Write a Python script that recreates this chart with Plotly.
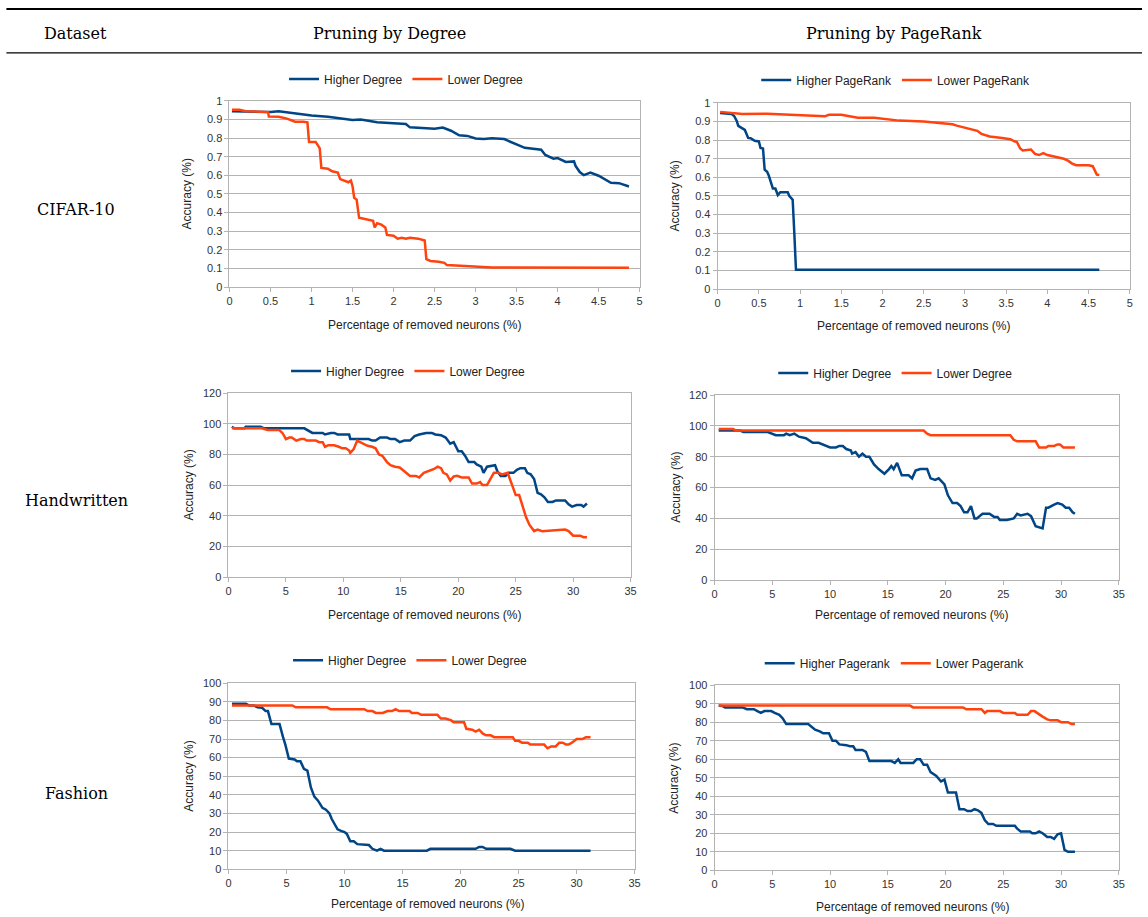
import plotly.graph_objects as go

W, H = 1148, 917
BLUE = "#004586"
ORANGE = "#ff420e"
SANS = "Liberation Sans, Arial, sans-serif"
SERIF = "DejaVu Serif, serif"

# ---------------- DATA ----------------
header_labels = ["Dataset", "Pruning by Degree", "Pruning by PageRank"]
dataset_labels = ["CIFAR-10", "Handwritten", "Fashion"]
x_title = "Percentage of removed neurons (%)"
y_title = "Accuracy (%)"

# CIFAR-10, pruning by degree
cd_hi_x = [0.03, 0.3, 0.5, 0.6, 0.8, 1.0, 1.2, 1.4, 1.5, 1.6, 1.8, 2.0, 2.15, 2.2, 2.4, 2.5, 2.6, 2.7, 2.8, 2.9,
           3.0, 3.1, 3.2, 3.35, 3.4, 3.5, 3.6, 3.8, 3.85, 3.95, 4.0, 4.1, 4.2, 4.22, 4.27, 4.32, 4.4, 4.5, 4.6,
           4.65, 4.75, 4.87]
cd_hi_y = [0.945, 0.942, 0.94, 0.945, 0.932, 0.922, 0.915, 0.905, 0.898, 0.9, 0.885, 0.88, 0.876, 0.858, 0.855,
           0.85, 0.857, 0.84, 0.815, 0.812, 0.798, 0.795, 0.8, 0.795, 0.785, 0.767, 0.748, 0.738, 0.71, 0.69,
           0.693, 0.672, 0.675, 0.65, 0.618, 0.601, 0.615, 0.598, 0.572, 0.56, 0.558, 0.54]
cd_lo_x = [0.03, 0.12, 0.2, 0.3, 0.47, 0.48, 0.6, 0.7, 0.8, 0.9, 0.95, 0.97, 1.05, 1.08, 1.1, 1.12, 1.2, 1.25,
           1.32, 1.35, 1.45, 1.48, 1.5, 1.52, 1.55, 1.58, 1.65, 1.7, 1.75, 1.77, 1.8, 1.85, 1.9, 1.92, 2.0, 2.05,
           2.1, 2.15, 2.2, 2.3, 2.38, 2.4, 2.45, 2.55, 2.62, 2.65, 2.8, 3.0, 3.2, 4.87]
cd_lo_y = [0.952, 0.952, 0.945, 0.942, 0.94, 0.916, 0.915, 0.905, 0.888, 0.888, 0.885, 0.78, 0.78, 0.76, 0.745,
           0.64, 0.636, 0.622, 0.615, 0.58, 0.563, 0.572, 0.542, 0.48, 0.47, 0.372, 0.366, 0.36, 0.356, 0.32,
           0.343, 0.335, 0.32, 0.28, 0.276, 0.26, 0.264, 0.26, 0.265, 0.26, 0.25, 0.15, 0.14, 0.136, 0.13,
           0.118, 0.115, 0.11, 0.105, 0.103]

# CIFAR-10, pruning by PageRank
cp_hi_x = [0.03, 0.17, 0.2, 0.23, 0.25, 0.3, 0.33, 0.37, 0.4, 0.45, 0.5, 0.52, 0.55, 0.57, 0.6, 0.62, 0.65, 0.67,
           0.7, 0.72, 0.73, 0.76, 0.85, 0.87, 0.89, 0.91, 0.93, 0.95, 4.63]
cp_hi_y = [0.946, 0.94, 0.93, 0.905, 0.877, 0.865, 0.855, 0.812, 0.81, 0.797, 0.793, 0.758, 0.755, 0.642, 0.63,
           0.61, 0.562, 0.54, 0.54, 0.52, 0.505, 0.52, 0.52, 0.5, 0.487, 0.48, 0.3, 0.103, 0.103]
cp_lo_x = [0.03, 0.2, 0.3, 0.6, 1.0, 1.3, 1.35, 1.5, 1.6, 1.7, 1.9, 2.0, 2.2, 2.5, 2.7, 2.85, 2.9, 3.0, 3.1, 3.15,
           3.2, 3.3, 3.45, 3.55, 3.6, 3.63, 3.67, 3.7, 3.8, 3.85, 3.9, 3.95, 4.0, 4.1, 4.2, 4.25, 4.3, 4.35, 4.5,
           4.55, 4.58, 4.6, 4.63]
cp_lo_y = [0.952, 0.945, 0.94, 0.942, 0.933, 0.928, 0.936, 0.937, 0.928, 0.92, 0.92, 0.915, 0.905, 0.9, 0.89,
           0.885, 0.878, 0.866, 0.856, 0.85, 0.834, 0.82, 0.812, 0.805, 0.794, 0.79, 0.755, 0.745, 0.75, 0.726,
           0.72, 0.73, 0.72, 0.71, 0.70, 0.69, 0.674, 0.665, 0.665, 0.66, 0.63, 0.615, 0.612]

# Handwritten, pruning by degree
hd_hi_x = [0.3, 0.5, 1.4, 1.5, 2.8, 3.1, 6.6, 7.0, 7.3, 8.2, 8.4, 8.9, 9.2, 9.5, 10.5, 10.6, 12.2, 12.5, 12.8,
           13.2, 13.8, 14.1, 14.5, 14.9, 15.3, 15.8, 16.2, 16.6, 17.2, 17.7, 18.0, 18.5, 18.9, 19.3, 19.6, 20.0,
           20.3, 20.6, 20.9, 21.4, 21.6, 22.0, 22.2, 22.5, 23.0, 23.2, 23.4, 23.7, 24.1, 24.4, 24.8, 25.1, 25.4,
           25.8, 26.0, 26.3, 26.6, 26.9, 27.2, 27.5, 27.8, 28.2, 28.5, 29.3, 29.6, 29.9, 30.3, 30.7, 30.9, 31.2]
hd_hi_y = [98, 97, 97, 98, 98, 97, 97, 95, 94, 94, 93, 94, 94, 93, 93, 90, 90, 89, 89, 91, 91, 90, 90, 88, 89,
           89, 92, 93, 94, 94, 93, 92.5, 91, 87, 88, 82, 82, 79, 75, 75, 73.5, 72, 68, 72, 73, 73, 69, 66, 66,
           68, 68, 70, 71, 71, 68, 67, 64, 55, 54, 52, 49, 49, 50, 50, 47.5, 46, 47, 47, 46, 48]
hd_lo_x = [0.3, 2.9, 3.4, 4.4, 4.7, 5.0, 5.3, 5.5, 5.9, 6.3, 6.6, 6.8, 7.6, 7.9, 8.2, 8.4, 8.7, 9.2, 9.6, 9.9,
           10.2, 10.5, 10.6, 10.9, 11.2, 11.5, 11.8, 12.1, 12.5, 12.8, 13.1, 13.4, 13.8, 14.1, 14.5, 14.9, 15.3,
           15.6, 15.8, 16.3, 16.6, 17.0, 17.4, 17.9, 18.2, 18.5, 18.7, 19.0, 19.3, 19.6, 19.9, 20.3, 20.9, 21.2,
           21.6, 21.9, 22.1, 22.5, 22.8, 23.1, 23.5, 23.8, 24.3, 24.5, 24.8, 25.0, 25.3, 25.6, 25.9, 26.2, 26.6,
           26.9, 27.3, 29.3, 29.6, 30.0, 30.6, 30.9, 31.2]
hd_lo_y = [97, 97, 96, 96, 94, 90, 91, 91, 89, 90, 90, 89, 89, 88, 88, 85, 86, 86, 85, 84, 84, 82.5, 81, 83.5,
           89, 88, 87, 85.6, 85, 84, 80, 79, 75, 73, 72, 71.5, 69, 67, 66, 66, 65, 68, 69, 70.5, 72, 71, 68, 67,
           63, 65.6, 66, 65, 65, 61, 61, 62, 60, 60, 64, 68, 68, 67, 68, 64, 58.5, 53.5, 53.5, 45.4, 39, 34, 30,
           31, 30, 31, 30, 27, 27, 26, 26]

# Handwritten, pruning by PageRank
hp_hi_x = [0.35, 2.2, 2.5, 4.6, 5.3, 6.0, 6.2, 6.5, 6.9, 7.3, 7.9, 8.5, 9.0, 9.6, 10.0, 10.5, 10.8, 11.1, 11.4,
           11.8, 11.9, 12.2, 12.5, 12.8, 13.1, 13.4, 13.8, 14.2, 14.7, 15.1, 15.3, 15.5, 15.8, 16.2, 16.8, 17.1,
           17.4, 17.8, 18.4, 18.7, 19.1, 19.4, 19.9, 20.2, 20.6, 21.0, 21.3, 21.6, 21.9, 22.2, 22.5, 22.7, 23.2,
           23.8, 24.2, 24.5, 24.7, 25.3, 25.9, 26.2, 26.5, 27.1, 27.4, 27.8, 28.4, 28.7, 28.9, 29.4, 29.7, 30.1,
           30.4, 30.7, 31.0, 31.2]
hp_hi_y = [97, 97, 96, 96, 94, 94, 95, 94, 95, 93, 92, 89, 89, 87, 86, 86, 87, 87, 85, 84, 82, 83, 80, 82, 80,
           80, 75, 72, 69, 72, 74, 72, 76, 68, 68, 66, 71, 72, 72, 66, 65, 66, 62, 55, 50, 50, 48, 44, 44, 48,
           40, 40, 43, 43, 41, 41, 39, 39, 40, 43, 42, 43, 41.5, 35, 33.5, 47, 47, 49, 50, 49, 47, 47, 44, 43]
hp_lo_x = [0.35, 1.6, 1.85, 18.1, 18.4, 18.7, 25.6, 25.9, 26.2, 27.8, 28.1, 28.7, 28.9, 29.4, 29.7, 29.9, 30.2,
           31.2]
hp_lo_y = [98, 98, 97, 97, 95, 94, 94, 91, 90, 90, 86, 86, 87, 87, 88, 88, 86, 86]

# Fashion, pruning by degree
fd_hi_x = [0.3, 1.5, 1.8, 2.2, 2.5, 2.9, 3.2, 3.4, 3.7, 4.4, 4.7, 4.9, 5.2, 5.7, 5.9, 6.2, 6.5, 6.8, 7.0, 7.1,
           7.4, 7.7, 7.9, 8.1, 8.4, 8.7, 8.9, 9.1, 9.4, 9.7, 10.0, 10.2, 10.5, 10.8, 11.1, 12.1, 12.4, 12.8,
           13.1, 13.4, 17.1, 17.4, 21.3, 21.6, 21.9, 22.2, 24.3, 24.7, 31.2]
fd_hi_y = [89, 89, 88, 88, 87, 86.8, 85, 85, 78, 78, 71, 67, 59.5, 59, 58, 58, 54, 53, 47, 44, 39, 37, 35, 33,
           32, 30, 27, 24.5, 21.5, 20.6, 20, 19, 15, 15, 13.5, 13, 11, 10, 11, 10, 10, 11, 11, 12, 12, 11, 11,
           10, 10]
fd_lo_x = [0.3, 5.5, 5.8, 8.5, 8.8, 11.7, 12.0, 12.4, 12.7, 13.3, 13.7, 14.1, 14.4, 14.7, 15.6, 15.8, 16.3,
           16.6, 18.0, 18.3, 18.7, 19.2, 19.4, 20.3, 20.5, 21.0, 21.3, 21.6, 21.9, 22.2, 22.6, 22.9, 24.5, 24.7,
           25.0, 25.3, 25.8, 26.0, 27.2, 27.5, 27.8, 28.2, 28.5, 28.8, 29.1, 29.3, 29.6, 30.0, 30.5, 30.8, 31.2]
fd_lo_y = [88, 88, 87, 87, 86, 86, 85, 85, 84, 84, 85, 85, 86, 85, 85, 84, 84, 83, 83, 81, 81, 80, 79, 79, 75.5,
           75, 74, 75, 73, 72, 72, 71, 71, 69, 69, 68, 68, 67, 67, 65, 66, 66, 68, 68, 67, 67, 68, 70, 70, 71, 71]

# Fashion, pruning by PageRank
fp_hi_x = [0.35, 0.7, 0.9, 2.4, 2.8, 3.4, 3.7, 4.0, 4.3, 4.9, 5.2, 5.6, 5.9, 6.2, 8.1, 8.3, 8.7, 9.1, 9.4, 9.9,
           10.2, 10.5, 10.8, 11.4, 11.7, 12.0, 12.2, 12.8, 13.1, 13.4, 15.3, 15.6, 15.9, 16.1, 17.2, 17.5, 17.8,
           18.1, 18.4, 18.7, 19.2, 19.6, 19.9, 20.2, 20.9, 21.2, 21.6, 21.9, 22.2, 22.5, 22.8, 23.1, 23.4, 23.7,
           24.1, 24.4, 26.0, 26.2, 26.5, 27.3, 27.5, 27.8, 28.1, 28.4, 28.8, 29.1, 29.4, 29.7, 30.0, 30.3, 30.6,
           31.2]
fp_hi_y = [89, 88.7, 88, 88, 87, 87, 86, 85, 86, 86, 85, 84, 82, 79, 79, 78, 76, 75, 74, 74, 70, 70, 68, 67.6,
           67, 67, 65, 65, 64, 59, 59, 58, 60, 58, 58, 60, 60, 57, 57, 53, 51, 48, 49, 42, 42, 33, 33, 32, 32,
           33, 32.4, 31, 27, 25, 25, 24, 24, 22.5, 21, 21, 20, 20, 21, 20, 18, 18, 17, 19.4, 20, 11, 10, 10]
fp_lo_x = [0.35, 16.9, 17.2, 21.5, 21.8, 23.1, 23.4, 23.6, 24.7, 25.0, 26.0, 26.2, 27.1, 27.4, 27.7, 28.1,
           28.4, 28.8, 29.1, 29.7, 30.0, 30.6, 30.9, 31.2]
fp_lo_y = [89, 89, 88, 88, 87, 87, 85, 86, 86, 85, 85, 84, 84, 86, 86, 84, 83, 81.5, 81, 81, 80, 80, 79, 79]

series_names = [
    ("Higher Degree", "Lower Degree"),
    ("Higher PageRank", "Lower PageRank"),
    ("Higher Degree", "Lower Degree"),
    ("Higher Degree", "Lower Degree"),
    ("Higher Degree", "Lower Degree"),
    ("Higher Pagerank", "Lower Pagerank"),
]
series_data = [
    (cd_hi_x, cd_hi_y, cd_lo_x, cd_lo_y),
    (cp_hi_x, cp_hi_y, cp_lo_x, cp_lo_y),
    (hd_hi_x, hd_hi_y, hd_lo_x, hd_lo_y),
    (hp_hi_x, hp_hi_y, hp_lo_x, hp_lo_y),
    (fd_hi_x, fd_hi_y, fd_lo_x, fd_lo_y),
    (fp_hi_x, fp_hi_y, fp_lo_x, fp_lo_y),
]
x_ranges = [(0, 5, 0.5), (0, 5, 0.5), (0, 35, 5), (0, 35, 5), (0, 35, 5), (0, 35, 5)]
y_ranges = [(0, 1, 0.1), (0, 1, 0.1), (0, 120, 20), (0, 120, 20), (0, 100, 10), (0, 100, 10)]

# ---------------- LAYOUT (pixel geometry, in target-picture pixels) ----------------
# plot-area boxes: left, right, top, bottom (px)
boxes = [
    (229, 639, 100, 286),
    (717, 1129, 102, 288),
    (228, 630, 392, 576),
    (714, 1118, 394, 579),
    (228, 634, 682, 868),
    (714, 1118, 684, 869),
]
legend_pos = [(406, 78), (895, 79), (408, 370), (895, 372), (410, 659), (894, 662)]
ytitle_pos = [(187, 193), (674, 195), (189, 484), (675, 486), (189, 775), (674, 777)]
xtitle_pos = [(424, 324), (913, 325), (424, 614), (911, 614), (427, 903), (912, 906)]

# the capture maps figure px -> picture px as  c + s * p ; invert it here
CX, SX = 2.6, 0.9918
CY, SY = 5.1, 0.9865


def fx(p):
    return ((p - CX) / SX) / W


def fy(p):
    return 1 - ((p - CY) / SY) / H


fig = go.Figure()
layout = dict(
    width=W, height=H,
    margin=dict(l=0, r=0, t=0, b=0),
    paper_bgcolor="white", plot_bgcolor="white",
    showlegend=True,
    annotations=[], shapes=[],
)

for i in range(6):
    n = "" if i == 0 else str(i + 1)
    l, r, t, b = boxes[i]
    x0, x1, xd = x_ranges[i]
    y0, y1, yd = y_ranges[i]
    layout["xaxis" + n] = dict(
        domain=[fx(l), fx(r)], range=[x0, x1], dtick=xd, tick0=0,
        anchor="y" + n, showgrid=False, zeroline=False,
        showline=True, mirror=True, linecolor="#b3b3b3", linewidth=1,
        ticks="outside", ticklen=4, tickcolor="#b3b3b3",
        tickfont=dict(family=SANS, size=11, color="#333333"),
    )
    layout["yaxis" + n] = dict(
        domain=[fy(b), fy(t)], range=[y0, y1], dtick=yd, tick0=0,
        anchor="x" + n, showgrid=True, gridcolor="#b3b3b3", gridwidth=1, zeroline=False,
        showline=True, mirror=True, linecolor="#b3b3b3", linewidth=1,
        ticks="outside", ticklen=4, tickcolor="#b3b3b3",
        tickfont=dict(family=SANS, size=11, color="#333333"),
    )
    lg = "legend" + n
    lx, ly = legend_pos[i]
    layout[lg] = dict(
        x=fx(lx), y=fy(ly), xanchor="center", yanchor="middle",
        orientation="h", bgcolor="rgba(0,0,0,0)",
        font=dict(family=SANS, size=12, color="#222222"),
        itemwidth=30, tracegroupgap=0,
    )
    hx, hy, lox, loy = series_data[i]
    nh, nl = series_names[i]
    fig.add_trace(go.Scatter(x=hx, y=hy, mode="lines", name=nh,
                             line=dict(color=BLUE, width=2.5),
                             xaxis="x" + n, yaxis="y" + n, legend=lg))
    fig.add_trace(go.Scatter(x=lox, y=loy, mode="lines", name=nl,
                             line=dict(color=ORANGE, width=2.5),
                             xaxis="x" + n, yaxis="y" + n, legend=lg))
    tx, ty = ytitle_pos[i]
    layout["annotations"].append(dict(
        text=y_title, x=fx(tx), y=fy(ty), xref="paper", yref="paper",
        showarrow=False, textangle=-90, xanchor="center", yanchor="middle",
        font=dict(family=SANS, size=12, color="#222222")))
    tx, ty = xtitle_pos[i]
    layout["annotations"].append(dict(
        text=x_title, x=fx(tx), y=fy(ty), xref="paper", yref="paper",
        showarrow=False, xanchor="center", yanchor="middle",
        font=dict(family=SANS, size=12, color="#222222")))

# table header
header_x = [75, 389, 893]
for txt, hxp in zip(header_labels, header_x):
    layout["annotations"].append(dict(
        text=txt, x=fx(hxp), y=fy(33), xref="paper", yref="paper", showarrow=False,
        xanchor="center", yanchor="middle", font=dict(family=SERIF, size=16, color="black")))
row_y = [209, 499, 792]
for txt, ryp in zip(dataset_labels, row_y):
    layout["annotations"].append(dict(
        text=txt, x=fx(76), y=fy(ryp), xref="paper", yref="paper", showarrow=False,
        xanchor="center", yanchor="middle", font=dict(family=SERIF, size=16, color="black")))

layout["shapes"].append(dict(type="line", xref="paper", yref="paper",
                             x0=fx(6), x1=1, y0=fy(8), y1=fy(8),
                             line=dict(color="black", width=2)))
layout["shapes"].append(dict(type="line", xref="paper", yref="paper",
                             x0=fx(6), x1=1, y0=fy(52), y1=fy(52),
                             line=dict(color="black", width=1.2)))

fig.update_layout(**layout)
fig.write_html(
    "out.html",
    config={"displayModeBar": False},
    post_script=(
        "document.documentElement.style.margin='0';"
        "document.body.style.margin='0';"
        "document.body.style.overflow='hidden';"
        "var g=document.getElementById('{plot_id}');"
        "g.style.position='fixed';g.style.left='0px';g.style.top='0px';"
    ),
)
